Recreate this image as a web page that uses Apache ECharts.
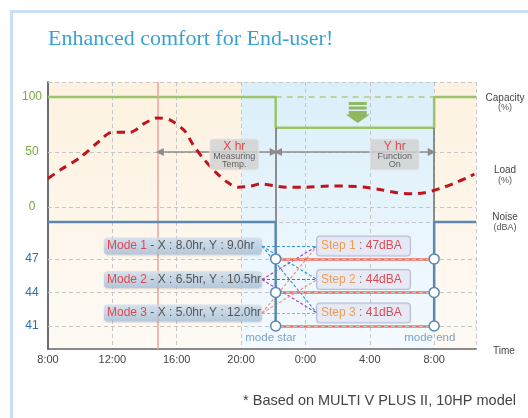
<!DOCTYPE html>
<html>
<head>
<meta charset="utf-8">
<script src="https://cdn.jsdelivr.net/npm/echarts@6/dist/echarts.min.js"></script>
<style>
  html, body { margin: 0; padding: 0; background: #fff; }
  #chart { width: 528px; height: 418px; }
</style>
</head>
<body>
<div id="chart"></div>
<script>
// time in hours: 8 = 8:00 day one, 32 = 8:00 next day
const timeMin = 8, timeMax = 34.6;
const tempPeak = 14.8;
const modeStart = 22.15, modeEnd = 32;
const loadData = [
  [8.0, 26], [8.8, 34], [10.0, 45], [11.2, 60], [12.0, 68], [13.1, 68],
  [14.0, 76], [14.8, 81], [15.6, 79], [16.5, 69], [17.0, 57], [17.6, 45],
  [18.4, 32], [19.2, 22], [19.8, 18], [20.6, 19], [21.2, 21], [22.8, 18],
  [24.0, 18], [25.5, 19], [26.6, 19], [27.7, 18], [28.8, 15.5], [29.7, 13],
  [30.7, 12], [31.4, 13], [32.4, 17], [33.3, 22], [34.1, 27], [34.5, 30]
];
const capacityFull = 100, capacityLow = 72;
const noiseBase = 50.3;
const stepLevels = [47, 44, 41];
const pctTicks = [0, 50, 100];
const dbaTicks = [41, 44, 47];
const modeNames = ["Mode 1", "Mode 2", "Mode 3"];
const modeXhr = ["8.0hr", "6.5hr", "5.0hr"];
const modeYhr = ["9.0hr", "10.5hr", "12.0hr"];
const stepNames = ["Step 1", "Step 2", "Step 3"];
const stepDba = ["47dBA", "44dBA", "41dBA"];
const linkColors = ["#3d9ad8", "#a545b8", "#f5907e"];

const pctMin = -13.6, pctMax = 113.6;
const dbMin = 38.94, dbMax = 50.3;
const boxLift = 1.15;
const modeBoxX = 11.48, modeBoxEnd = 21.3, stepBoxX = 24.72;

var chart = echarts.init(document.getElementById("chart"));
const font = "Liberation Sans";
const dash = { color: "#c6c6c6", type: [4, 3], width: 1 };

let links = [];
modeNames.forEach((m, i) => {
  stepNames.forEach((s, j) => {
    links.push({
      coords: [[modeBoxEnd, stepLevels[i] + boxLift], [stepBoxX, stepLevels[j] + boxLift]],
      lineStyle: { color: linkColors[i] }
    });
  });
});

const bands = (c1, c2, b1, b2) => [
  [{ xAxis: timeMin, itemStyle: { color: new echarts.graphic.LinearGradient(0, 0, 0, 1, [{ offset: 0, color: c1 }, { offset: 1, color: c2 }]) } }, { xAxis: 20 }],
  [{ xAxis: 20, itemStyle: { color: new echarts.graphic.LinearGradient(0, 0, 0, 1, [{ offset: 0, color: b1 }, { offset: 1, color: b2 }]) } }, { xAxis: modeEnd }],
  [{ xAxis: modeEnd, itemStyle: { color: new echarts.graphic.LinearGradient(0, 0, 0, 1, [{ offset: 0, color: c1 }, { offset: 1, color: c2 }]) } }, { xAxis: timeMax }]
];

const xBase = {
  type: "value", min: timeMin, max: timeMax, interval: 4, z: 2,
  axisTick: { show: false },
  splitLine: { show: true, lineStyle: dash }
};

chart.setOption({
  animation: false,
  textStyle: { fontFamily: font },
  title: {
    text: "Enhanced comfort for End-user!",
    left: 43, top: 23,
    textStyle: { fontFamily: "Liberation Serif", fontSize: 22, fontWeight: "normal", color: "#3aa2d3" }
  },
  grid: [
    { left: 48, right: 52, top: 82, height: 140 },
    { left: 48, right: 52, top: 222, height: 127 }
  ],
  xAxis: [
    Object.assign({}, xBase, { gridIndex: 0, axisLine: { show: false }, axisLabel: { show: false } }),
    Object.assign({}, xBase, {
      gridIndex: 1,
      axisLine: { show: true, onZero: false, lineStyle: { color: "#666", width: 1.5 } },
      axisLabel: { color: "#444", fontSize: 11, margin: 5, showMaxLabel: false, formatter: (v) => (v % 24) + ":00" }
    })
  ],
  yAxis: [
    {
      gridIndex: 0, type: "value", min: pctMin, max: pctMax, z: 2,
      axisLine: { show: true, onZero: false, lineStyle: { color: "#6e6e6e", width: 2 } },
      axisTick: { show: false }, splitLine: { show: false },
      axisLabel: { customValues: pctTicks, color: "#7aa83c", fontSize: 12, align: "center", margin: 16 }
    },
    {
      gridIndex: 1, type: "value", min: dbMin, max: dbMax, z: 2,
      axisLine: { show: true, onZero: false, lineStyle: { color: "#6e6e6e", width: 2 } },
      axisTick: { show: false }, splitLine: { show: false },
      axisLabel: { customValues: dbaTicks, color: "#2f6ea8", fontSize: 12, align: "center", margin: 16 }
    }
  ],
  series: [
    // backgrounds
    { type: "line", xAxisIndex: 0, yAxisIndex: 0, data: [], z: 1, silent: true,
      markArea: { silent: true, data: bands("#fdf2e1", "#fdf6ea", "#dbeffa", "#e7f4fc") } },
    { type: "line", xAxisIndex: 1, yAxisIndex: 1, data: [], z: 1, silent: true,
      markArea: { silent: true, data: bands("#fdf6ec", "#fefaf4", "#e9f5fc", "#f4fafe") } },
    // horizontal dashed grid
    { type: "line", xAxisIndex: 0, yAxisIndex: 0, data: [], z: 2, silent: true,
      markLine: { silent: true, symbol: "none", label: { show: false }, lineStyle: dash,
        data: [{ yAxis: pctMax }, { yAxis: 50 }, { yAxis: 0 }] } },
    { type: "line", xAxisIndex: 1, yAxisIndex: 1, data: [], z: 2, silent: true,
      markLine: { silent: true, symbol: "none", label: { show: false }, lineStyle: dash,
        data: [{ yAxis: dbMax }].concat(stepLevels.map((v) => ({ yAxis: v }))) } },
    // temperature line + mode verticals
    { type: "line", xAxisIndex: 0, yAxisIndex: 0, data: [], z: 3, silent: true,
      markLine: { silent: true, symbol: "none", label: { show: false },
        data: [
          { xAxis: tempPeak, lineStyle: { color: "#f2a198", width: 1.5, type: "solid" } },
          [{ coord: [modeStart, capacityLow], lineStyle: { color: "#6e6e6e", width: 1.5, type: "solid" } }, { coord: [modeStart, pctMin] }],
          [{ coord: [modeEnd, capacityLow], lineStyle: { color: "#6e6e6e", width: 1.5, type: "solid" } }, { coord: [modeEnd, pctMin] }]
        ] } },
    { type: "line", xAxisIndex: 1, yAxisIndex: 1, data: [], z: 3, silent: true,
      markLine: { silent: true, symbol: "none", label: { show: false },
        data: [{ xAxis: tempPeak, lineStyle: { color: "#f2a198", width: 1.5, type: "solid" } }] } },
    // capacity
    { name: "Capacity", type: "line", xAxisIndex: 0, yAxisIndex: 0, z: 4, symbol: "none",
      lineStyle: { color: "#9cc46a", width: 2.5 },
      data: [[timeMin, capacityFull], [modeStart, capacityFull], [modeStart, capacityLow],
             [modeEnd, capacityLow], [modeEnd, capacityFull], [timeMax, capacityFull]] },
    { type: "line", xAxisIndex: 0, yAxisIndex: 0, z: 4, symbol: "none",
      lineStyle: { color: "#a9cd7e", width: 1.5, type: [6, 5] },
      data: [[modeStart, capacityFull], [modeEnd, capacityFull]] },
    { type: "scatter", xAxisIndex: 0, yAxisIndex: 0, z: 5, silent: true,
      symbol: "path://M3,0L21,0L21,3L3,3Z M3,4.5L21,4.5L21,7.5L3,7.5Z M3,9L21,9L21,12.5L24,12.5L12,21L0,12.5L3,12.5Z",
      symbolSize: [24, 21], itemStyle: { color: "#7aab3a" },
      data: [[27.25, 85.9]] },
    // load
    { name: "Load", type: "line", xAxisIndex: 0, yAxisIndex: 0, z: 5, symbol: "none", smooth: 0.3,
      lineStyle: { color: "#c0141d", width: 3, type: [8, 6] },
      data: loadData },
    // X hr / Y hr arrows
    { type: "line", xAxisIndex: 0, yAxisIndex: 0, data: [], z: 5, silent: true,
      markLine: { silent: true, symbol: ["triangle", "triangle"], symbolSize: [8, 8], label: { show: false },
        lineStyle: { color: "#8c8c8c", width: 1.5, type: "solid" },
        data: [
          [{ coord: [tempPeak + 0.15, 50] }, { coord: [modeStart - 0.12, 50] }],
          [{ coord: [modeStart + 0.15, 50] }, { coord: [modeEnd - 0.15, 50] }]
        ] } },
    { type: "scatter", xAxisIndex: 0, yAxisIndex: 0, z: 6, silent: true, symbolSize: 0,
      data: [
        { value: [19.58, 47.7], name: "X hr", sub: ["Measuring", "Temp."] },
        { value: [29.55, 47.7], name: "Y hr", sub: ["Function", "On"] }
      ],
      label: {
        show: true, position: "inside", align: "center",
        width: 46, padding: [1, 1], backgroundColor: "#d1d1d1", borderColor: "#e6e6e6", borderWidth: 1, borderRadius: 3,
        formatter: (p) => `{a|${p.data.name}}\n{b|${p.data.sub[0]}}\n{b|${p.data.sub[1]}}`,
        rich: {
          a: { color: "#e3232b", fontSize: 12, lineHeight: 12, align: "center" },
          b: { color: "#444", fontSize: 9, lineHeight: 8, align: "center" }
        }
      } },
    // links between modes and steps
    { type: "lines", coordinateSystem: "cartesian2d", xAxisIndex: 1, yAxisIndex: 1, z: 3, silent: true,
      lineStyle: { width: 1.2, type: [3, 2], opacity: 1 },
      data: links },
    // step lines
    { type: "lines", coordinateSystem: "cartesian2d", xAxisIndex: 1, yAxisIndex: 1, z: 4, silent: true,
      lineStyle: { color: "#f26d5b", width: 2.5, opacity: 1 },
      data: stepLevels.map((v) => ({ coords: [[modeStart, v], [modeEnd, v]] })) },
    // noise
    { name: "Noise", type: "line", xAxisIndex: 1, yAxisIndex: 1, z: 5, symbol: "none", clip: false,
      lineStyle: { color: "#5b87b0", width: 2.5 },
      data: [[timeMin, noiseBase], [modeStart, noiseBase], [modeStart, stepLevels[2]]] },
    { type: "line", xAxisIndex: 1, yAxisIndex: 1, z: 5, symbol: "none", clip: false,
      lineStyle: { color: "#5b87b0", width: 2.5 },
      data: [[modeEnd, stepLevels[2]], [modeEnd, noiseBase], [timeMax, noiseBase]] },
    { type: "scatter", xAxisIndex: 1, yAxisIndex: 1, z: 6, silent: true, symbolSize: 10,
      itemStyle: { color: "#fff", borderColor: "#5b87b0", borderWidth: 1.5, opacity: 1 },
      data: stepLevels.map((v) => [modeStart, v]).concat(stepLevels.map((v) => [modeEnd, v])) },
    { type: "scatter", xAxisIndex: 1, yAxisIndex: 1, z: 6, silent: true, symbolSize: 0,
      data: [{ value: [21.85, 39.93], name: "mode star" }, { value: [31.73, 39.93], name: "mode end" }],
      label: { show: true, position: "inside", formatter: "{b}", color: "#5a8bbd", fontSize: 11.5 } },
    // mode boxes
    { type: "scatter", xAxisIndex: 1, yAxisIndex: 1, z: 7, silent: true, symbolSize: 0,
      data: modeNames.map((m, i) => ({ value: [modeBoxX, stepLevels[i] + boxLift], name: m, idx: i })),
      label: {
        show: true, position: "right", distance: 0, width: 153, padding: [2, 2, 2, 3],
        backgroundColor: new echarts.graphic.LinearGradient(0, 0, 0, 1, [{ offset: 0, color: "#d3e3f1" }, { offset: 1, color: "#abc5de" }]),
        borderRadius: 4, shadowColor: "rgba(0,0,0,0.18)", shadowBlur: 2, shadowOffsetY: 1,
        formatter: (p) => `{n|${p.name}}{t| - X : ${modeXhr[p.data.idx]}, Y : ${modeYhr[p.data.idx]}}`,
        rich: {
          n: { color: "#e8242c", fontSize: 12, lineHeight: 13 },
          t: { color: "#333", fontSize: 12, lineHeight: 13 }
        }
      } },
    // step boxes
    { type: "scatter", xAxisIndex: 1, yAxisIndex: 1, z: 7, silent: true, symbolSize: 0,
      data: stepNames.map((s, i) => ({ value: [stepBoxX, stepLevels[i] + boxLift], name: s, idx: i })),
      label: {
        show: true, position: "right", distance: 0, width: 86, padding: [3, 3, 3, 4],
        backgroundColor: "#e5e6f2", borderColor: "#a6aed0", borderWidth: 1, borderRadius: 3,
        formatter: (p) => `{s|${p.name}}{c| : }{d|${stepDba[p.data.idx]}}`,
        rich: {
          s: { color: "#f28a2c", fontSize: 12, lineHeight: 13 },
          c: { color: "#555", fontSize: 12, lineHeight: 13 },
          d: { color: "#d62430", fontSize: 12, lineHeight: 13 }
        }
      } }
  ],
  graphic: [
    { type: "rect", silent: true, z: -10, shape: { x: 11.5, y: 11.5, width: 620, height: 520 },
      style: { fill: "none", stroke: "#c9e0f2", lineWidth: 3 } },
    { type: "text", x: 505, y: 98, style: { text: "Capacity", fill: "#444", font: "10px 'Liberation Sans'", align: "center", verticalAlign: "middle" } },
    { type: "text", x: 505, y: 108, style: { text: "(%)", fill: "#555", font: "9px 'Liberation Sans'", align: "center", verticalAlign: "middle" } },
    { type: "text", x: 505, y: 170, style: { text: "Load", fill: "#444", font: "10px 'Liberation Sans'", align: "center", verticalAlign: "middle" } },
    { type: "text", x: 505, y: 181, style: { text: "(%)", fill: "#555", font: "9px 'Liberation Sans'", align: "center", verticalAlign: "middle" } },
    { type: "text", x: 505, y: 217, style: { text: "Noise", fill: "#444", font: "10px 'Liberation Sans'", align: "center", verticalAlign: "middle" } },
    { type: "text", x: 505, y: 228, style: { text: "(dBA)", fill: "#555", font: "9px 'Liberation Sans'", align: "center", verticalAlign: "middle" } },
    { type: "text", x: 504, y: 351, style: { text: "Time", fill: "#444", font: "10px 'Liberation Sans'", align: "center", verticalAlign: "middle" } },
    { type: "text", x: 516, y: 401, style: { text: "* Based on MULTI V PLUS II, 10HP model", fill: "#444", font: "14.5px 'Liberation Sans'", align: "right", verticalAlign: "middle" } }
  ]
});
</script>
</body>
</html>
